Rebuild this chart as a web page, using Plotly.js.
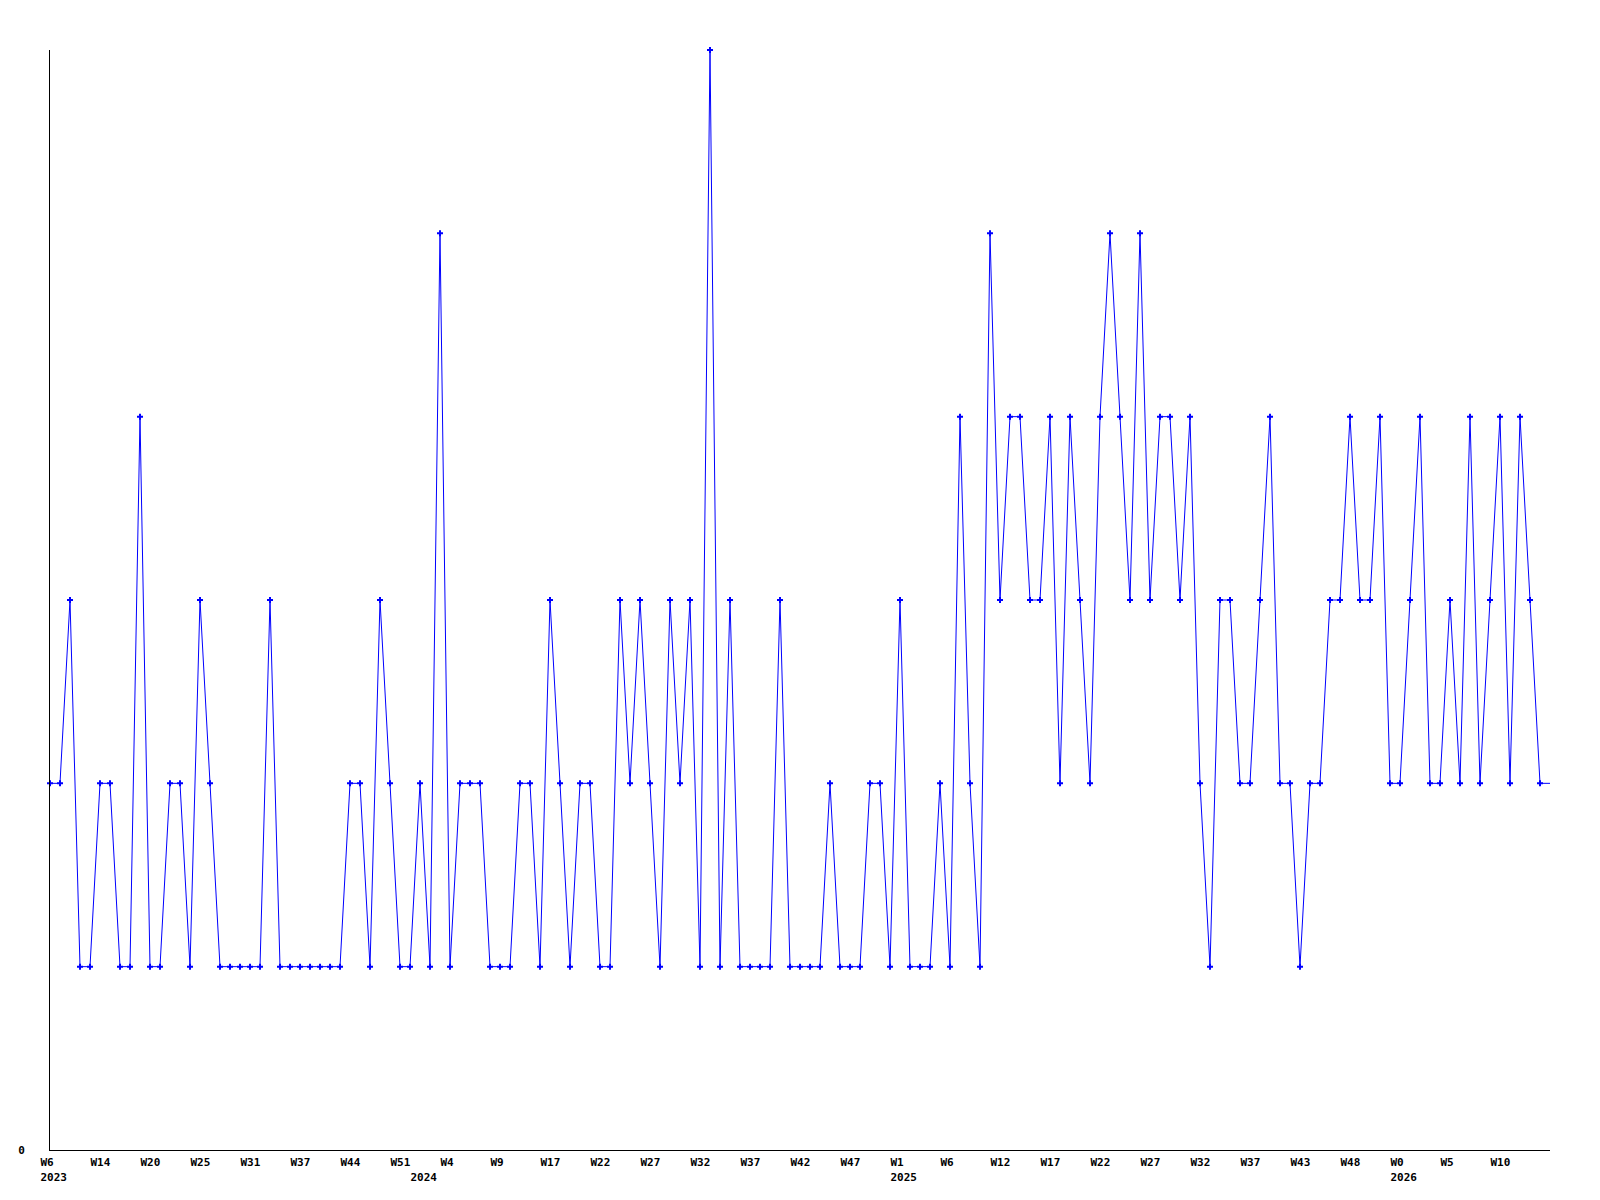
<!DOCTYPE html>
<html>
<head>
<meta charset="utf-8">
<script src="https://cdn.plot.ly/plotly-3.0.1.min.js"></script>
<style>
  html, body { margin: 0; padding: 0; background: #ffffff; }
  #chart { width: 1600px; height: 1200px; }
</style>
</head>
<body>
<div id="chart"></div>
<script>
// Weekly values (ordinal positions, one per recorded week)
const values = [
  2,2,3,1,1,2,2,1,1,4,
  1,1,2,2,1,3,2,1,1,1,
  1,1,3,1,1,1,1,1,1,1,
  2,2,1,3,2,1,1,2,1,5,
  1,2,2,2,1,1,1,2,2,1,
  3,2,1,2,2,1,1,3,2,3,
  2,1,3,2,3,1,6,1,3,1,
  1,1,1,3,1,1,1,1,2,1,
  1,1,2,2,1,3,1,1,1,2,
  1,4,2,1,5,3,4,4,3,3,
  4,2,4,3,2,4,5,4,3,5,
  3,4,4,3,4,2,1,3,3,2,
  2,3,4,2,2,1,2,2,3,3,
  4,3,3,4,2,2,3,4,2,2,
  3,2,4,2,3,4,2,4,3,2,
  2
];
// Week tick labels (every 5th point)
const weekLabels = ["W6","W14","W20","W25","W31","W37","W44","W51","W4","W9",
  "W17","W22","W27","W32","W37","W42","W47","W1","W6","W12",
  "W17","W22","W27","W32","W37","W43","W48","W0","W5","W10"];
const weekLabelPos = [0,5,10,15,20,25,30,35,40,45,50,55,60,65,70,75,80,85,90,95,
  100,105,110,115,120,125,130,135,140,145];
// Year tick labels
const yearLabels = ["2023","2024","2025","2026"];
const yearLabelPos = [0,37,85,135];
const visibleCount = 150;

const xs = values.map((v, i) => i);

// merge week and year labels into one tick set
const tickMap = new Map();
weekLabelPos.forEach((p, i) => tickMap.set(p, weekLabels[i]));
yearLabelPos.forEach((p, i) => {
  const prev = tickMap.has(p) ? tickMap.get(p) : "\u00a0";
  tickMap.set(p, prev + "<br>" + yearLabels[i]);
});
const tickvals = Array.from(tickMap.keys()).sort((a, b) => a - b);
const ticktext = tickvals.map(v => tickMap.get(v));

const tickFont = { family: "DejaVu Sans Mono, monospace", size: 11, color: "#000000", weight: "bold" };

const traces = [
  {
    x: xs, y: values, type: "scatter", mode: "lines",
    line: { color: "#0000ff", width: 1 },
    hoverinfo: "skip", showlegend: false
  },
  {
    x: xs.slice(0, visibleCount), y: values.slice(0, visibleCount),
    type: "scatter", mode: "markers",
    marker: { color: "#0000ff", symbol: "cross", size: 5, line: { width: 0 } },
    cliponaxis: false, showlegend: false
  }
];

const layout = {
  width: 1600, height: 1200,
  margin: { l: 50, r: 50, t: 50, b: 50, pad: 0 },
  paper_bgcolor: "#ffffff", plot_bgcolor: "#ffffff",
  showlegend: false,
  xaxis: {
    range: [0, 150],
    showgrid: false, zeroline: false,
    showline: true, linecolor: "#000000", linewidth: 1,
    ticks: "", tickmode: "array", tickvals: tickvals, ticktext: ticktext,
    tickangle: 0,
    ticklabelposition: "outside right", ticklabelshift: -10, ticklabelstandoff: 2,
    tickfont: tickFont
  },
  yaxis: {
    range: [0, 6],
    showgrid: false, zeroline: false,
    showline: true, linecolor: "#000000", linewidth: 1,
    ticks: "", tickmode: "array", tickvals: [0], ticktext: ["0"],
    ticklabelstandoff: 22,
    tickfont: tickFont
  }
};

Plotly.newPlot("chart", traces, layout, { displayModeBar: false, staticPlot: true });
</script>
</body>
</html>
